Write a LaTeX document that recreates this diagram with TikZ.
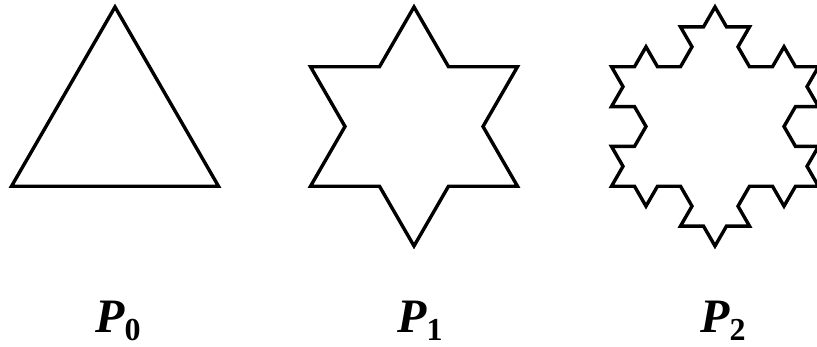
\documentclass[tikz,border=0pt]{standalone}
\usepackage{fontspec}
\setmainfont{Liberation Serif}
\usetikzlibrary{lindenmayersystems}

\pgfdeclarelindenmayersystem{koch}{\rule{F -> F-F++F-F}}

\tikzset{
  curva/.style={line width=3.4pt, line join=miter},
  rotulo/.style={anchor=base west, inner sep=0pt,
    font=\fontsize{48}{48}\selectfont\bfseries\itshape}
}
\newcommand{\indice}[1]{\lower8pt\hbox{\fontsize{32}{32}\selectfont\bfseries\upshape #1}}

\begin{document}
\begin{tikzpicture}[x=1pt,y=1pt]
	\useasboundingbox (0,0) rectangle (817,347);

% curvas de Koch P0, P1, P2
	\begin{scope}
	\clip (0,0) rectangle (817,347);
	\foreach \n/\cx/\passo in {0/115/207, 1/414/69, 2/715/23}
		\draw[curva, shift={(\cx-103.5,160.75)},
			lindenmayer system={koch, axiom=F++F++F, order=\n, step=\passo pt, angle=60}]
			lindenmayer system -- cycle;
	\end{scope}

% rotulos
	\foreach \n/\lx in {0/95, 1/397, 2/700}
		\node[rotulo] (p\n) at (\lx,14) {P\indice{\n}};
\end{tikzpicture}
\end{document}
